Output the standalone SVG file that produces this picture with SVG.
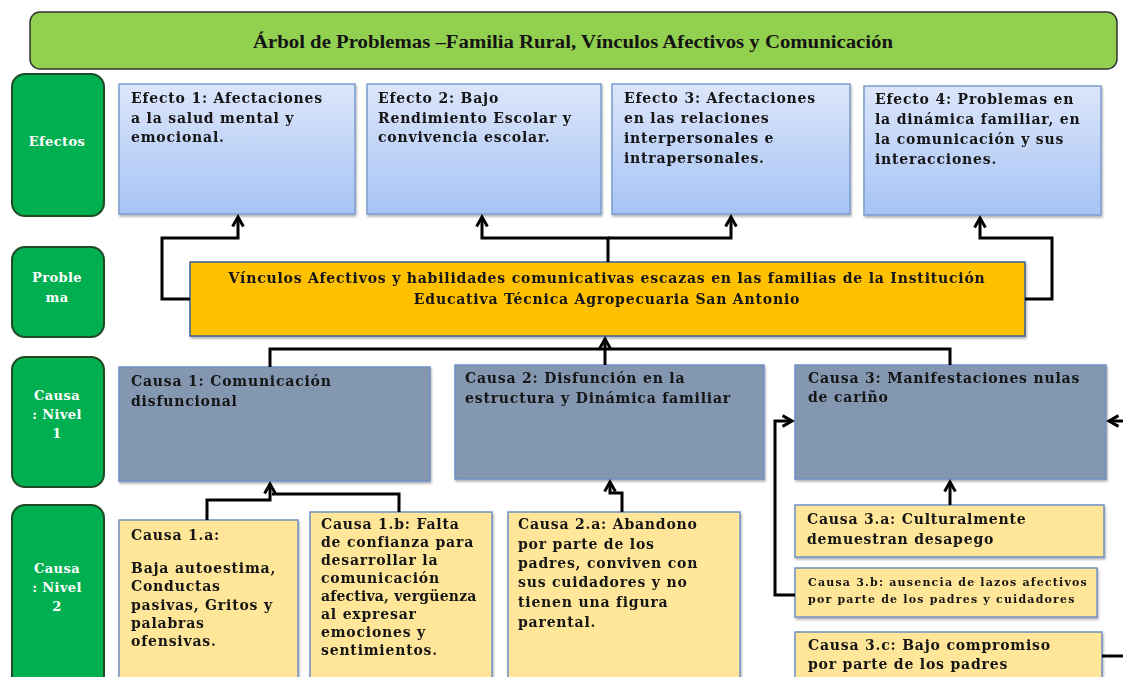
<svg xmlns="http://www.w3.org/2000/svg" width="1123" height="677" viewBox="0 0 1123 677">
<defs>
<linearGradient id="gEff" x1="0" y1="0" x2="0" y2="1">
<stop offset="0" stop-color="#dce6fa"/>
<stop offset="1" stop-color="#a6c3f5"/>
</linearGradient>
<filter id="sh" x="-5%" y="-5%" width="110%" height="115%">
<feDropShadow dx="1" dy="2" stdDeviation="1.2" flood-color="#000" flood-opacity="0.3"/>
</filter>
<marker id="ah" viewBox="0 0 10 10" refX="8" refY="5" markerWidth="4.5" markerHeight="4.5" orient="auto" markerUnits="strokeWidth">
<path d="M1,1 L8,5 L1,9" fill="none" stroke="#000" stroke-width="2.2"/>
</marker>
</defs>
<style>
.lbl{fill:#00b050;stroke:#1f4a24;stroke-width:2}
.lt{font-family:"DejaVu Serif","Liberation Serif",serif;font-weight:bold;font-size:13px;letter-spacing:0.4px;fill:#fff;text-anchor:middle}
.eff{fill:url(#gEff);stroke:#7b9ccc;stroke-width:1.5}
.c1{fill:#8497b0;stroke:#6f8fc4;stroke-width:1.5}
.c2{fill:#ffe699;stroke:#6f8fc4;stroke-width:1.5}
.prob{fill:#ffc000;stroke:#3b5e96;stroke-width:1.5}
.t{font-family:"DejaVu Serif","Liberation Serif",serif;font-weight:bold;font-size:14px;letter-spacing:0.8px;fill:#141414}
.ts{font-family:"DejaVu Serif","Liberation Serif",serif;font-weight:bold;font-size:11px;letter-spacing:1.2px;fill:#141414}
.cn{fill:none;stroke:#000;stroke-width:3;stroke-linejoin:miter}
</style>

<g id="title">
<rect x="30" y="12" width="1087" height="57" rx="10" fill="#92d050" stroke="#333" stroke-width="1.5"/>
<text x="573" y="48" font-family="Liberation Serif, serif" font-weight="bold" font-size="18.5px" fill="#141414" text-anchor="middle" textLength="640" lengthAdjust="spacingAndGlyphs">Árbol de Problemas –Familia Rural, Vínculos Afectivos y Comunicación</text>
</g>

<g id="lbl-efectos"><rect class="lbl" x="12" y="74" width="92" height="142" rx="13"/><text class="lt" x="57" y="146">Efectos</text></g>
<g id="lbl-problema"><rect class="lbl" x="12" y="247" width="92" height="90" rx="13"/><text class="lt" x="57" y="282">Proble</text><text class="lt" x="57" y="302">ma</text></g>
<g id="lbl-causa1"><rect class="lbl" x="12" y="357" width="92" height="130" rx="13"/><text class="lt" x="57" y="400">Causa</text><text class="lt" x="57" y="419">: Nivel</text><text class="lt" x="57" y="438">1</text></g>
<g id="lbl-causa2"><rect class="lbl" x="12" y="505" width="92" height="190" rx="13"/><text class="lt" x="57" y="573">Causa</text><text class="lt" x="57" y="592">: Nivel</text><text class="lt" x="57" y="611">2</text></g>

<g id="efecto1" filter="url(#sh)"><rect class="eff" x="119" y="84" width="236" height="130"/>
<text class="t" x="131" y="103">Efecto 1:  Afectaciones</text><text class="t" x="131" y="123">a la salud mental y</text><text class="t" x="131" y="142">emocional.</text></g>
<g id="efecto2" filter="url(#sh)"><rect class="eff" x="367" y="84" width="234" height="130"/>
<text class="t" x="378" y="103">Efecto 2: Bajo</text><text class="t" x="378" y="123">Rendimiento Escolar y</text><text class="t" x="378" y="142">convivencia escolar.</text></g>
<g id="efecto3" filter="url(#sh)"><rect class="eff" x="612" y="84" width="238" height="130"/>
<text class="t" x="624" y="103">Efecto 3: Afectaciones</text><text class="t" x="624" y="123">en las relaciones</text><text class="t" x="624" y="143">interpersonales e</text><text class="t" x="624" y="163">intrapersonales.</text></g>
<g id="efecto4" filter="url(#sh)"><rect class="eff" x="864" y="86" width="237" height="129"/>
<text class="t" x="875" y="104">Efecto 4: Problemas en</text><text class="t" x="875" y="124">la dinámica familiar, en</text><text class="t" x="875" y="144">la comunicación y sus</text><text class="t" x="875" y="164">interacciones.</text></g>

<g id="problema" filter="url(#sh)"><rect class="prob" x="190" y="262" width="835" height="74"/>
<text class="t" x="607" y="283" text-anchor="middle">Vínculos Afectivos y habilidades comunicativas escazas en las familias de la Institución</text>
<text class="t" x="607" y="304" text-anchor="middle">Educativa Técnica Agropecuaria San Antonio</text></g>

<g id="causa1" filter="url(#sh)"><rect class="c1" x="119" y="367" width="311" height="114"/>
<text class="t" x="131" y="386">Causa 1: Comunicación</text><text class="t" x="131" y="406">disfuncional</text></g>
<g id="causa2" filter="url(#sh)"><rect class="c1" x="455" y="365" width="309" height="114"/>
<text class="t" x="465" y="383">Causa 2: Disfunción en la</text><text class="t" x="465" y="403">estructura  y Dinámica familiar</text></g>
<g id="causa3" filter="url(#sh)"><rect class="c1" x="795" y="365" width="311" height="114"/>
<text class="t" x="808" y="383">Causa 3: Manifestaciones nulas</text><text class="t" x="808" y="402">de cariño</text></g>

<g id="causa1a" filter="url(#sh)"><rect class="c2" x="119" y="520" width="179" height="170"/>
<text class="t" x="131" y="540">Causa 1.a:</text><text class="t" x="131" y="573">Baja autoestima,</text><text class="t" x="131" y="591">Conductas</text><text class="t" x="131" y="610">pasivas, Gritos y</text><text class="t" x="131" y="628">palabras</text><text class="t" x="131" y="646">ofensivas.</text></g>
<g id="causa1b" filter="url(#sh)"><rect class="c2" x="310" y="512" width="182" height="178"/>
<text class="t" x="321" y="529">Causa 1.b: Falta</text><text class="t" x="321" y="547">de confianza para</text><text class="t" x="321" y="565">desarrollar la</text><text class="t" x="321" y="583">comunicación</text><text class="t" x="321" y="601" style="letter-spacing:0.2px">afectiva, vergüenza</text><text class="t" x="321" y="619">al expresar</text><text class="t" x="321" y="637">emociones y</text><text class="t" x="321" y="655">sentimientos.</text></g>
<g id="causa2a" filter="url(#sh)"><rect class="c2" x="508" y="512" width="232" height="178"/>
<text class="t" x="518" y="529">Causa 2.a:  Abandono</text><text class="t" x="518" y="549">por parte de los</text><text class="t" x="518" y="568">padres, conviven con</text><text class="t" x="518" y="587">sus cuidadores y no</text><text class="t" x="518" y="607">tienen una figura</text><text class="t" x="518" y="627">parental.</text></g>
<g id="causa3a" filter="url(#sh)"><rect class="c2" x="795" y="505" width="309" height="52"/>
<text class="t" x="807" y="524">Causa 3.a: Culturalmente</text><text class="t" x="807" y="544">demuestran desapego</text></g>
<g id="causa3b" filter="url(#sh)"><rect class="c2" x="795" y="568" width="302" height="49"/>
<text class="ts" x="808" y="586">Causa 3.b: ausencia de lazos afectivos</text><text class="ts" x="808" y="603">por parte de los padres y cuidadores</text></g>
<g id="causa3c" filter="url(#sh)"><rect class="c2" x="795" y="632" width="307" height="60"/>
<text class="t" x="808" y="650">Causa 3.c: Bajo compromiso</text><text class="t" x="808" y="669">por parte de los padres</text></g>

<g id="connectors">
<path class="cn" d="M190,299 H162 V238 H238 V217" marker-end="url(#ah)"/>
<path class="cn" d="M608,262 V238 H482 V217" marker-end="url(#ah)"/>
<path class="cn" d="M608,238 H731 V217" marker-end="url(#ah)"/>
<path class="cn" d="M1025,299 H1052 V238 H980 V218" marker-end="url(#ah)"/>
<path class="cn" d="M605,365 V339" marker-end="url(#ah)"/>
<path class="cn" d="M270,367 V349 H950 V365"/>
<path class="cn" d="M207,520 V500 H270 V484" marker-end="url(#ah)"/>
<path class="cn" d="M399,512 V494 H272"/>
<path class="cn" d="M622,512 V493 H610 V482" marker-end="url(#ah)"/>
<path class="cn" d="M950,505 V482" marker-end="url(#ah)"/>
<path class="cn" d="M795,595 H775 V421 H792" marker-end="url(#ah)"/>
<path class="cn" d="M1123,421 H1109" marker-end="url(#ah)"/>
<path class="cn" d="M1102,656 H1123"/>
</g>
</svg>
